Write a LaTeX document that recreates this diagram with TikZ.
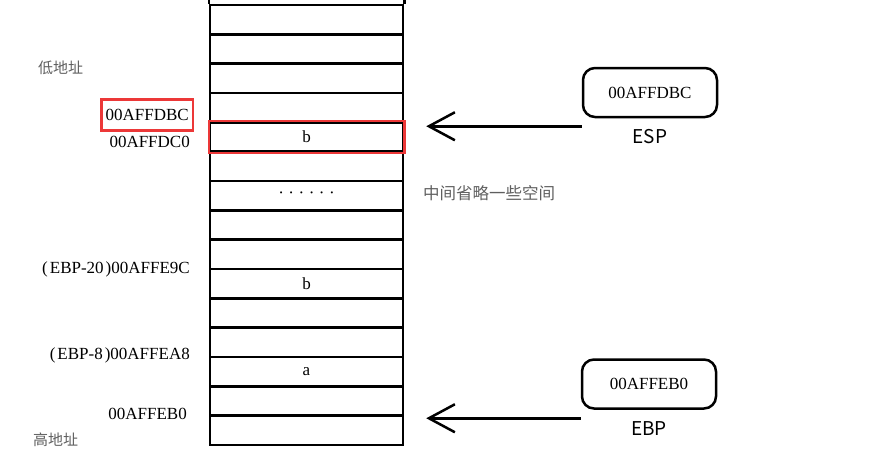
\documentclass[tikz,border=0pt]{standalone}
\usepackage{fontspec}
\setmainfont{Liberation Serif}
\newfontfamily\cjk{Noto Sans CJK SC}
\usepackage{tikz}
\usetikzlibrary{arrows.meta, positioning}
\definecolor{markred}{RGB}{236,56,56}
\definecolor{notegray}{RGB}{95,95,95}

\begin{document}
\begin{tikzpicture}[
    x=1pt, y=-1pt,
    cell/.style={rectangle, draw, line width=2.5pt, minimum width=193pt, minimum height=29.33pt, inner sep=0pt},
    val/.style={font=\fontsize{17}{19}\selectfont},
    addr/.style={anchor=east, inner sep=0pt, font=\fontsize{17}{19}\selectfont},
    note/.style={anchor=west, inner sep=0pt, text=notegray, font=\cjk\fontsize{15}{17}\selectfont},
    reg/.style={rectangle, rounded corners=12pt, draw, line width=2.5pt, minimum width=134pt, minimum height=49pt, font=\fontsize{17}{19}\selectfont},
    regname/.style={font=\cjk\fontsize{19}{22}\selectfont},
    arrow/.style={-{Straight Barb[length=26pt, width=28pt, line width=2.5pt]}, line width=2.5pt}
]
\useasboundingbox (0,0) rectangle (870,464);

% stack column
\foreach \i in {0,...,14}
  \node[cell] (c\i) at (306.5, 19.67+29.33*\i) {};
\draw[line width=2.5pt] (c0.north west) -- ++(0,-8);
\draw[line width=2.5pt] (c0.north east) -- ++(0,-8);
\draw[markred, line width=2.5pt] (c4.north west) rectangle (c4.south east);
\node[val] (vb1) at (c4) {b};
\node[val] (vdots) at (c6) {\textperiodcentered\hspace{4.5pt}\textperiodcentered\hspace{4.5pt}\textperiodcentered\hspace{4.5pt}\textperiodcentered\hspace{4.5pt}\textperiodcentered\hspace{4.5pt}\textperiodcentered};
\node[val] (vb2) at (c9) {b};
\node[val] (va) at (c12) {a};

% addresses
\node[note] (low) at (38,68) {低地址};
\node[addr, draw=markred, line width=2.5pt, inner xsep=4pt, minimum height=31pt] (adbc) at (194,115) {00AFFDBC};
\node[addr] (adc0) at (190,142) {00AFFDC0};
\node[addr] (ae9c) at (190,269) {(\hspace{2pt}EBP-20\hspace{2pt})00AFFE9C};
\node[addr] (aea8) at (190,355) {(\hspace{2pt}EBP-8\hspace{2pt})00AFFEA8};
\node[addr] (aeb0) at (187,414) {00AFFEB0};
\node[note] (high) at (33,440) {高地址};
\node[note, font=\cjk\fontsize{16.5}{18}\selectfont] (skip) at (423,193) {中间省略一些空间};

% registers
\node[reg] (esp) at (650,92.5) {00AFFDBC};
\node[regname, below=8pt of esp] (espname) {ESP};
\coordinate (esptail) at ([yshift=-8pt]esp.south west);
\coordinate (esptip) at ([xshift=22pt]c4.east |- esptail);
\draw[arrow] (esptail) -- (esptip);

\node[reg] (ebp) at (649,384) {00AFFEB0};
\node[regname, below=8pt of ebp] (ebpname) {EBP};
\coordinate (ebptail) at ([yshift=-8.5pt]ebp.south west);
\coordinate (ebptip) at ([xshift=22pt]c14.east |- ebptail);
\draw[arrow] (ebptail) -- (ebptip);
\end{tikzpicture}
\end{document}
